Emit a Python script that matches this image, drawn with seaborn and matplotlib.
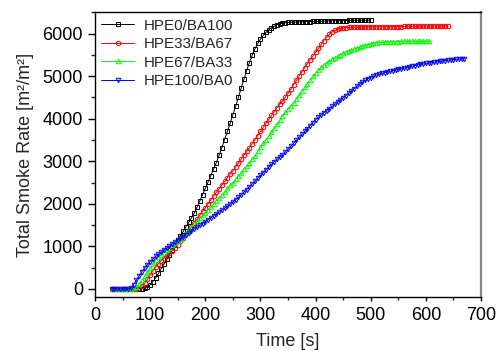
import numpy as np
import pandas as pd
import seaborn as sns
import matplotlib.pyplot as plt
from matplotlib.ticker import MultipleLocator

# sample grid (5 s steps) for each blend
labels = ["HPE0/BA100", "HPE33/BA67", "HPE67/BA33", "HPE100/BA0"]
t_end = [500, 640, 605, 670]

tsr_hpe0 = [0] * 11 + [
    5, 15, 45, 95, 170, 260, 360, 470, 580, 690, 800, 910, 1020, 1130, 1240,
    1350, 1460, 1560, 1670, 1780, 1920, 2060, 2210, 2360, 2510, 2660, 2810,
    2970, 3140, 3320, 3510, 3700, 3890, 4090, 4290, 4500, 4720, 4930, 5130,
    5320, 5490, 5640, 5770, 5870, 5960, 6030, 6090, 6140, 6180, 6210, 6230,
    6250, 6260, 6265, 6270, 6272, 6275, 6278, 6280, 6282, 6285, 6287, 6290,
    6292, 6294, 6296, 6298, 6300, 6302, 6303, 6305, 6306, 6308, 6309, 6310,
    6311, 6312, 6313, 6314, 6315, 6316, 6317, 6318, 6320,
]
tsr_hpe33 = [0] * 9 + [
    5, 20, 60, 130, 220, 320, 420, 510, 590, 660, 720, 780, 835, 890, 965,
    1040, 1120, 1200, 1285, 1370, 1460, 1550, 1640, 1730, 1820, 1910, 2000,
    2090, 2180, 2270, 2355, 2440, 2525, 2610, 2695, 2780, 2870, 2960, 3050,
    3140, 3230, 3320, 3415, 3510, 3605, 3700, 3795, 3890, 3985, 4080, 4170,
    4260, 4340, 4420, 4510, 4600, 4700, 4800, 4900, 5000, 5100, 5200, 5295,
    5390, 5475, 5560, 5655, 5750, 5840, 5920, 5985, 6040, 6080, 6110, 6130,
    6140, 6145, 6150, 6151, 6152, 6153, 6154, 6155, 6156, 6157, 6158, 6159,
    6160, 6161, 6162, 6163, 6164, 6165, 6166, 6167, 6168, 6169, 6170, 6171,
    6172, 6173, 6174, 6175, 6175, 6176, 6176, 6177, 6177, 6178, 6178, 6179,
    6179, 6180, 6180,
]
tsr_hpe67 = [0] * 8 + [
    10, 40, 110, 200, 300, 390, 480, 580, 680, 740, 800, 855, 910, 965, 1020,
    1070, 1120, 1180, 1240, 1310, 1380, 1450, 1520, 1590, 1660, 1725, 1790,
    1855, 1920, 1995, 2070, 2140, 2210, 2285, 2360, 2430, 2500, 2575, 2650,
    2730, 2810, 2890, 2970, 3050, 3130, 3230, 3330, 3420, 3510, 3595, 3680,
    3775, 3870, 3970, 4070, 4150, 4230, 4305, 4380, 4465, 4550, 4645, 4735,
    4825, 4910, 4995, 5075, 5145, 5210, 5265, 5320, 5360, 5400, 5435, 5470,
    5505, 5540, 5565, 5590, 5615, 5640, 5665, 5690, 5710, 5730, 5745, 5760,
    5775, 5790, 5795, 5800, 5805, 5810, 5812, 5815, 5816, 5816, 5817, 5817,
    5818, 5818, 5818, 5819, 5819, 5819, 5820, 5820, 5820,
]
tsr_hpe100 = [0] * 7 + [
    20, 100, 200, 300, 400, 490, 570, 640, 700, 760, 810, 860, 910, 960,
    1005, 1050, 1095, 1140, 1185, 1230, 1275, 1320, 1365, 1410, 1450, 1490,
    1535, 1580, 1625, 1670, 1715, 1760, 1805, 1850, 1895, 1940, 1990, 2040,
    2095, 2150, 2210, 2270, 2335, 2400, 2465, 2530, 2600, 2670, 2735, 2800,
    2865, 2930, 2990, 3050, 3100, 3150, 3215, 3280, 3350, 3420, 3490, 3560,
    3630, 3700, 3770, 3840, 3910, 3980, 4035, 4090, 4140, 4190, 4240, 4290,
    4340, 4390, 4440, 4490, 4545, 4600, 4655, 4710, 4765, 4815, 4860, 4900,
    4940, 4970, 5000, 5025, 5045, 5065, 5085, 5100, 5115, 5130, 5145, 5160,
    5175, 5190, 5205, 5220, 5235, 5250, 5265, 5280, 5290, 5300, 5310, 5320,
    5330, 5340, 5350, 5360, 5370, 5378, 5385, 5392, 5398, 5402, 5406, 5410,
]

series = [tsr_hpe0, tsr_hpe33, tsr_hpe67, tsr_hpe100]
colors = ["black", "red", "#00ff00", "blue"]
markers = ["s", "o", "^", "v"]

frames = []
for lab, end, vals in zip(labels, t_end, series):
    t = np.arange(30, end + 1, 5)
    frames.append(pd.DataFrame({"time": t, "tsr": vals, "sample": lab}))
df = pd.concat(frames, ignore_index=True)

sns.set_style("ticks")
plt.rcParams['font.family'] = ['Liberation Sans', 'DejaVu Sans']

fig = plt.figure(figsize=(4.96, 3.51), dpi=100)
ax = fig.add_axes([0.1915, 0.153, 0.7783, 0.8115])

for lab, col, mk in zip(labels, colors, markers):
    sub = df[df["sample"] == lab]
    sns.lineplot(data=sub, x="time", y="tsr", ax=ax, color=col, label=lab,
                 marker=mk, markersize=3.2, markerfacecolor="none",
                 markeredgecolor=col, markeredgewidth=0.7, linewidth=0.7)

ax.set_xlim(0, 700)
ax.set_ylim(-200, 6500)
ax.xaxis.set_major_locator(MultipleLocator(100))
ax.xaxis.set_minor_locator(MultipleLocator(50))
ax.yaxis.set_major_locator(MultipleLocator(1000))
ax.yaxis.set_minor_locator(MultipleLocator(500))
ax.tick_params(axis="x", which="major", direction="out", length=3.2, width=1,
               labelsize=13, colors="black", pad=4)
ax.tick_params(axis="x", which="minor", direction="out", length=1.8, width=1)
ax.tick_params(axis="y", which="major", direction="out", length=5.2, width=1,
               labelsize=13, colors="black", pad=3.5)
ax.tick_params(axis="y", which="minor", direction="out", length=2.6, width=1)

for s in ["left", "bottom", "top"]:
    ax.spines[s].set_color("black")
    ax.spines[s].set_linewidth(1.0)
ax.spines["right"].set_visible(True)
ax.spines["top"].set_visible(True)
ax.spines["right"].set_color("#888888")
ax.spines["right"].set_linewidth(1.6)

ax.set_xlabel("Time [s]", fontsize=13, labelpad=6)
ax.set_ylabel("Total Smoke Rate [m\u00b2/m\u00b2]", fontsize=13, labelpad=6)

leg = ax.legend(loc="upper left", frameon=False, fontsize=10.9,
                handlelength=2.2, handletextpad=0.6, labelspacing=0.3,
                borderaxespad=0.1, borderpad=0.3)

plt.savefig("out.png", dpi=100)
